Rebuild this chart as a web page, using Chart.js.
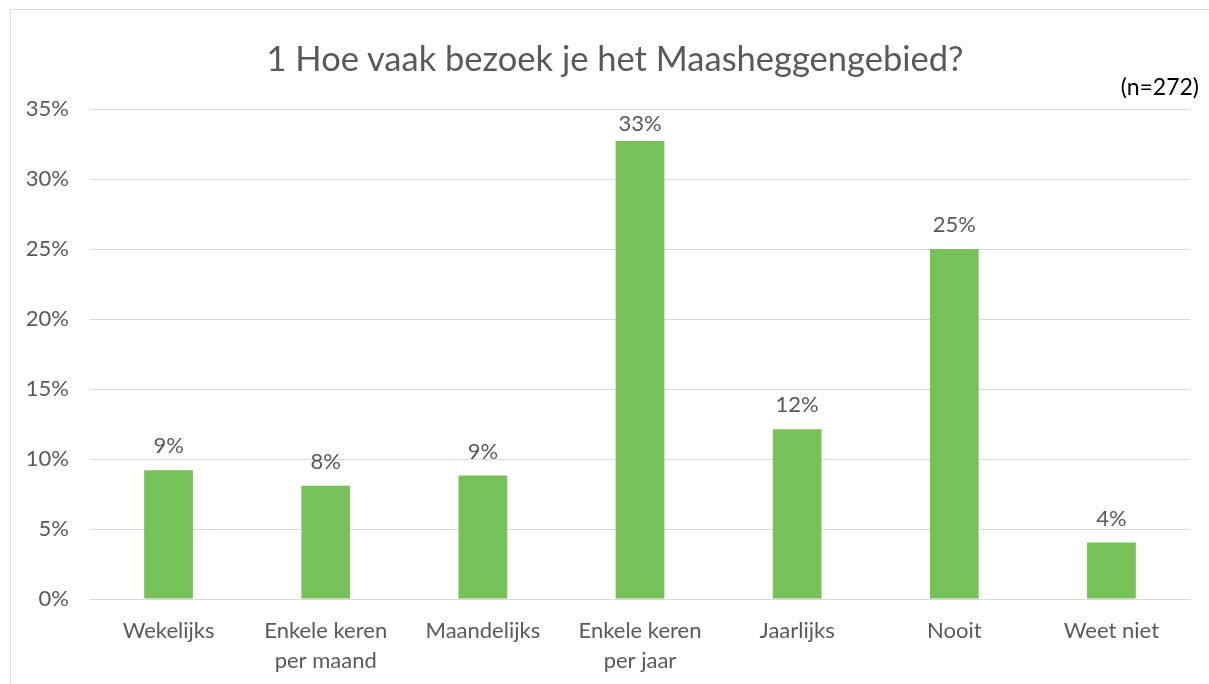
<!DOCTYPE html>
<html>
<head>
<meta charset="utf-8">
<script src="https://cdn.jsdelivr.net/npm/chart.js@4/dist/chart.umd.min.js"></script>
<style>
  body { margin: 0; background: #fff; overflow: hidden; }
  #wrap { position: relative; width: 1209px; height: 684px; overflow: hidden; }
  #frame { position: absolute; left: 10px; top: 9px; width: 1300px; height: 800px; border: 1px solid #d9d9d9; box-sizing: border-box; }
  #title { position: absolute; left: 0; top: 37px; width: 1230px; text-align: center; font: 34.5px/41px Lato, sans-serif; color: #595959; }
  #n { position: absolute; right: 10px; top: 72px; font: 23px Lato, sans-serif; color: #000; }
  canvas { position: absolute; left: 0; top: 0; }
</style>
</head>
<body>
<div id="wrap">
  <div id="frame"></div>
  <canvas id="chart" width="1209" height="684"></canvas>
  <div id="title">1 Hoe vaak bezoek je het Maasheggengebied?</div>
  <div id="n">(n=272)</div>
</div>
<script>
const categories = ['Wekelijks', ['Enkele keren', 'per maand'], 'Maandelijks', ['Enkele keren', 'per jaar'], 'Jaarlijks', 'Nooit', 'Weet niet'];
const percentages = [9.19, 8.09, 8.82, 32.72, 12.13, 25.0, 4.04];
const yTicks = [0, 5, 10, 15, 20, 25, 30, 35];

const fontFamily = 'Lato, sans-serif';
const textColor = '#595959';
const gridColor = '#d9d9d9';

// draws the rounded percentage above each bar, kept inside the plot area
const barLabels = {
  id: 'barLabels',
  afterDatasetsDraw(chart) {
    const ctx = chart.ctx;
    ctx.save();
    ctx.font = `22px ${fontFamily}`;
    ctx.fillStyle = textColor;
    ctx.textAlign = 'center';
    ctx.textBaseline = 'middle';
    chart.getDatasetMeta(0).data.forEach((bar, i) => {
      const y = Math.max(bar.y - 24, chart.chartArea.top + 15);
      ctx.fillText(Math.round(percentages[i]) + '%', bar.x, y);
    });
    ctx.restore();
  }
};

new Chart(document.getElementById('chart').getContext('2d'), {
  type: 'bar',
  data: {
    labels: categories,
    datasets: [{
      data: percentages,
      backgroundColor: '#77c159',
      barPercentage: 0.31,
      categoryPercentage: 1
    }]
  },
  options: {
    responsive: false,
    animation: false,
    layout: {
      padding: {left: 0, right: 19, top: 109, bottom: 0}
    },
    scales: {
      x: {
        afterFit: scale => { scale.height = 85; },
        grid: {display: false, drawTicks: false},
        border: {color: gridColor},
        ticks: {
          color: textColor,
          font: {family: fontFamily, size: 22, lineHeight: 1.36},
          padding: 17,
          maxRotation: 0,
          autoSkip: false
        }
      },
      y: {
        min: 0,
        max: 35,
        afterFit: scale => { scale.width = 90; },
        afterBuildTicks: scale => { scale.ticks = yTicks.map(v => ({value: v})); },
        grid: {color: gridColor, drawTicks: false},
        border: {display: false},
        ticks: {
          color: textColor,
          font: {family: fontFamily, size: 22},
          padding: 21,
          callback: v => v + '%'
        }
      }
    },
    plugins: {
      legend: {display: false},
      tooltip: {enabled: false},
      title: {display: false}
    }
  },
  plugins: [barLabels]
});
</script>
</body>
</html>
